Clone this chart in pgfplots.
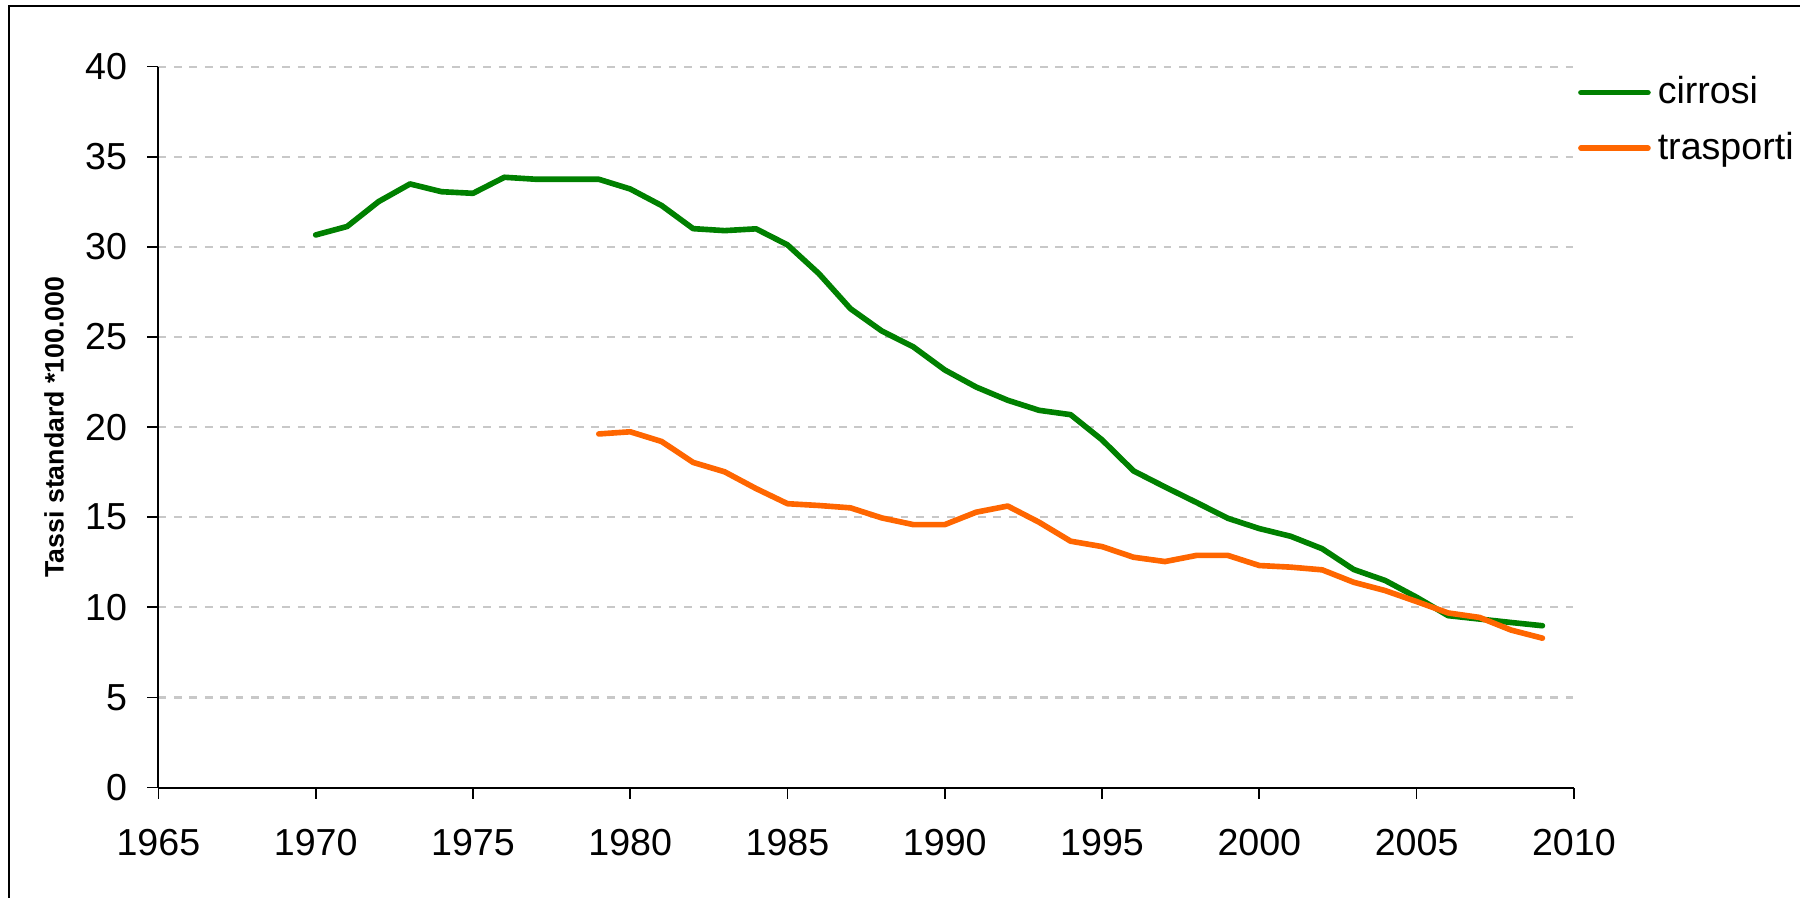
\documentclass[border=0pt]{standalone}
\usepackage{fontspec}
\setmainfont{Liberation Sans}
\usepackage{pgfplots}
\pgfplotsset{compat=1.18}
\definecolor{cgreen}{RGB}{0,128,0}
\definecolor{corange}{RGB}{255,102,0}
\definecolor{cgrid}{RGB}{200,200,200}
\begin{document}
\begin{tikzpicture}
\path[use as bounding box] (0,0) rectangle (18cm,8.98cm);
\draw[line width=0.6pt,black] (0.09cm,0cm) -- (0.09cm,8.92cm) -- (18cm,8.92cm);
\begin{axis}[
  scale only axis,
  width=14.155cm, height=7.21cm,
  at={(1.584cm,1.104cm)}, anchor=south west,
  xmin=1965, xmax=2010, ymin=0, ymax=40,
  xtick={1965,1970,...,2010}, ytick={0,5,...,40},
  axis x line=bottom, axis y line=left,
  axis line style={-, line width=0.6pt},
  tick align=outside, major tick length=0.11cm,
  tick style={black, line width=0.5pt},
  minor tick num=0,
  ymajorgrids,
  grid style={cgrid, line width=0.6pt, dash pattern=on 2.2pt off 2.2pt},
  /pgf/number format/1000 sep={},
  /pgf/number format/assume math mode=true,
  ticklabel style={font=\fontsize{10.7}{12}\selectfont},
  xticklabel style={yshift=-0.18cm},
  yticklabel style={xshift=-0.08cm},
  ylabel={\fontsize{7.6}{9}\selectfont\bfseries Tassi standard *100.000},
  ylabel style={at={(rel axis cs:-0.07376,0.5)}, anchor=center},
  legend style={at={(rel axis cs:1,1)}, anchor=north west, xshift=-0.07cm, yshift=0.05cm,
    draw=none, fill=none, font=\fontsize{10.7}{12}\selectfont, row sep=0.09cm,
    cells={anchor=west}},
  legend image code/.code={\draw[#1, line cap=round] (0cm,0cm) -- (0.67cm,0cm);},
  clip=false,
]
\addplot[cgreen, line width=1.6pt, line join=round, line cap=round] coordinates {
(1970,30.66) (1971,31.13) (1972,32.51) (1973,33.49) (1974,33.06) (1975,32.97)
(1976,33.86) (1977,33.75) (1978,33.75) (1979,33.75) (1980,33.21) (1981,32.29)
(1982,31.01) (1983,30.90) (1984,31.00) (1985,30.11) (1986,28.51) (1987,26.57)
(1988,25.33) (1989,24.45) (1990,23.17) (1991,22.22) (1992,21.49) (1993,20.93)
(1994,20.69) (1995,19.29) (1996,17.57) (1997,16.68) (1998,15.82) (1999,14.94)
(2000,14.37) (2001,13.94) (2002,13.25) (2003,12.10) (2004,11.49) (2005,10.56)
(2006,9.54) (2007,9.35) (2008,9.16) (2009,8.98)
};
\addlegendentry{cirrosi}
\addplot[corange, line width=1.6pt, line join=round, line cap=round] coordinates {
(1979,19.62) (1980,19.74) (1981,19.20) (1982,18.04) (1983,17.52) (1984,16.59)
(1985,15.75) (1986,15.65) (1987,15.52) (1988,14.96) (1989,14.59) (1990,14.59)
(1991,15.28) (1992,15.62) (1993,14.72) (1994,13.67) (1995,13.37) (1996,12.78)
(1997,12.54) (1998,12.88) (1999,12.88) (2000,12.32) (2001,12.23) (2002,12.08)
(2003,11.39) (2004,10.93) (2005,10.32) (2006,9.69) (2007,9.44) (2008,8.74)
(2009,8.29)
};
\addlegendentry{trasporti}
\end{axis}
\end{tikzpicture}
\end{document}
